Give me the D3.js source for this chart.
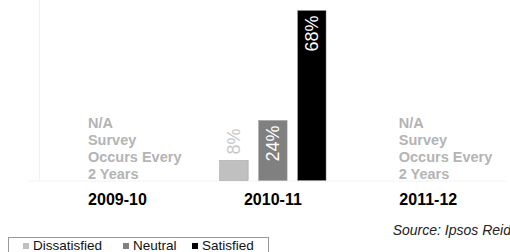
<!DOCTYPE html>
<html>
<head>
<meta charset="utf-8">
<script src="https://cdn.jsdelivr.net/npm/d3@7"></script>
<style>
	body { margin: 0; background: #fff; }
	svg { display: block; font-family: Arial, "Liberation Sans", sans-serif; }
</style>
</head>
<body>
<div id="chart"></div>
<script>
//Satisfaction survey, only run every other year

const years = ['2009-10', '2010-11', '2011-12'];
const series = ['Dissatisfied', 'Neutral', 'Satisfied'];
const values2010 = [8, 24, 68]; //percent, 2010-11 only
const naLines = ['N/A', 'Survey', 'Occurs Every', '2 Years'];
const colors = ['#c0c0c0', '#808080', '#000000'];
const sourceText = 'Source: Ipsos Reid';

const w = 510;
const h = 252;

const plot = d3.select('#chart').append('svg')
	.attr('width', w)
	.attr('height', h);

//scales
const x0 = d3.scaleBand()
	.domain(years)
	.range([39.75, 506]);

const x1 = d3.scaleBand()
	.domain(series)
	.range([0, x0.bandwidth()])
	.paddingInner(0.27)
	.paddingOuter(0.63);

const y = d3.scaleLinear()
	.domain([0, 70])
	.range([180.5, 5.5]);

const color = d3.scaleOrdinal().domain(series).range(colors);

//faint plot frame
plot.append('line')
	.attr('x1', 39.5).attr('x2', 39.5)
	.attr('y1', 0).attr('y2', y(0))
	.style('stroke', '#f2f2f2');
plot.append('line')
	.attr('x1', 28).attr('x2', 506)
	.attr('y1', y(0) + 0.5).attr('y2', y(0) + 0.5)
	.style('stroke', '#f2f2f2');

//bars for 2010-11
const rows = series.map(function(s, i){ return {key: s, value: values2010[i]}; });
const isSmall = function(d){ return (y(0) - y(d.value)) < 30; };

const g = plot.append('g')
	.attr('transform', `translate(${x0('2010-11')},0)`);

g.selectAll('rect')
	.data(rows)
	.enter()
	.append('rect')
	.attr('x', function(d){ return x1(d.key); })
	.attr('y', function(d){ return y(d.value); })
	.attr('width', x1.bandwidth())
	.attr('height', function(d){ return y(0) - y(d.value); })
	.style('fill', function(d){ return color(d.key); })
	.style('stroke', '#9a9a9a')
	.style('stroke-width', 0.5);

//value labels, rotated
g.selectAll('text.val')
	.data(rows)
	.enter()
	.append('text')
	.attr('class', 'val')
	.attr('transform', function(d){
		const cx = x1(d.key) + x1.bandwidth() / 2 + 6.5;
		const cy = isSmall(d) ? y(d.value) - 6 : y(d.value) + 5;
		return `translate(${cx},${cy}) rotate(-90)`;
	})
	.attr('text-anchor', function(d){ return isSmall(d) ? 'start' : 'end'; })
	.style('font-size', '18px')
	.style('fill', function(d){ return isSmall(d) ? '#c8c8c8' : '#fff'; })
	.text(function(d){ return d.value + '%'; });

//N/A notes for off years
years.filter(function(yr){ return yr !== '2010-11'; }).forEach(function(yr){
	const tx = x0(yr) + x0.bandwidth() / 2 - 29.5;
	plot.append('text')
		.attr('x', tx)
		.attr('y', 128)
		.style('font-size', '14.5px')
		.style('font-weight', 'bold')
		.style('fill', '#b4b4b4')
		.selectAll('tspan')
		.data(naLines)
		.enter()
		.append('tspan')
		.attr('x', tx)
		.attr('dy', function(d, i){ return i === 0 ? 0 : 17; })
		.text(function(d){ return d; });
});

//category axis labels
plot.selectAll('text.cat')
	.data(years)
	.enter()
	.append('text')
	.attr('class', 'cat')
	.attr('x', function(d){ return x0(d) + x0.bandwidth() / 2; })
	.attr('y', 205)
	.attr('text-anchor', 'middle')
	.style('font-size', '16px')
	.style('font-weight', 'bold')
	.style('fill', '#000')
	.text(function(d){ return d; });

//source
plot.append('text')
	.attr('x', 511)
	.attr('y', 235)
	.attr('text-anchor', 'end')
	.style('font-size', '14px')
	.style('font-style', 'italic')
	.style('fill', '#222')
	.text(sourceText);

//legend
const legend = plot.append('g');
legend.append('rect')
	.attr('x', 8.5).attr('y', 237.5)
	.attr('width', 260).attr('height', 30)
	.style('fill', '#fff')
	.style('stroke', '#999');

const legendX = [23, 123, 192];
const items = legend.selectAll('g.item')
	.data(series)
	.enter()
	.append('g')
	.attr('class', 'item')
	.attr('transform', function(d, i){ return `translate(${legendX[i]},0)`; });

items.append('rect')
	.attr('x', 0).attr('y', 243)
	.attr('width', 6).attr('height', 6)
	.style('fill', function(d){ return color(d); });

items.append('text')
	.attr('x', 10)
	.attr('y', 250)
	.style('font-size', '13.5px')
	.style('fill', '#111')
	.text(function(d){ return d; });
</script>
</body>
</html>
